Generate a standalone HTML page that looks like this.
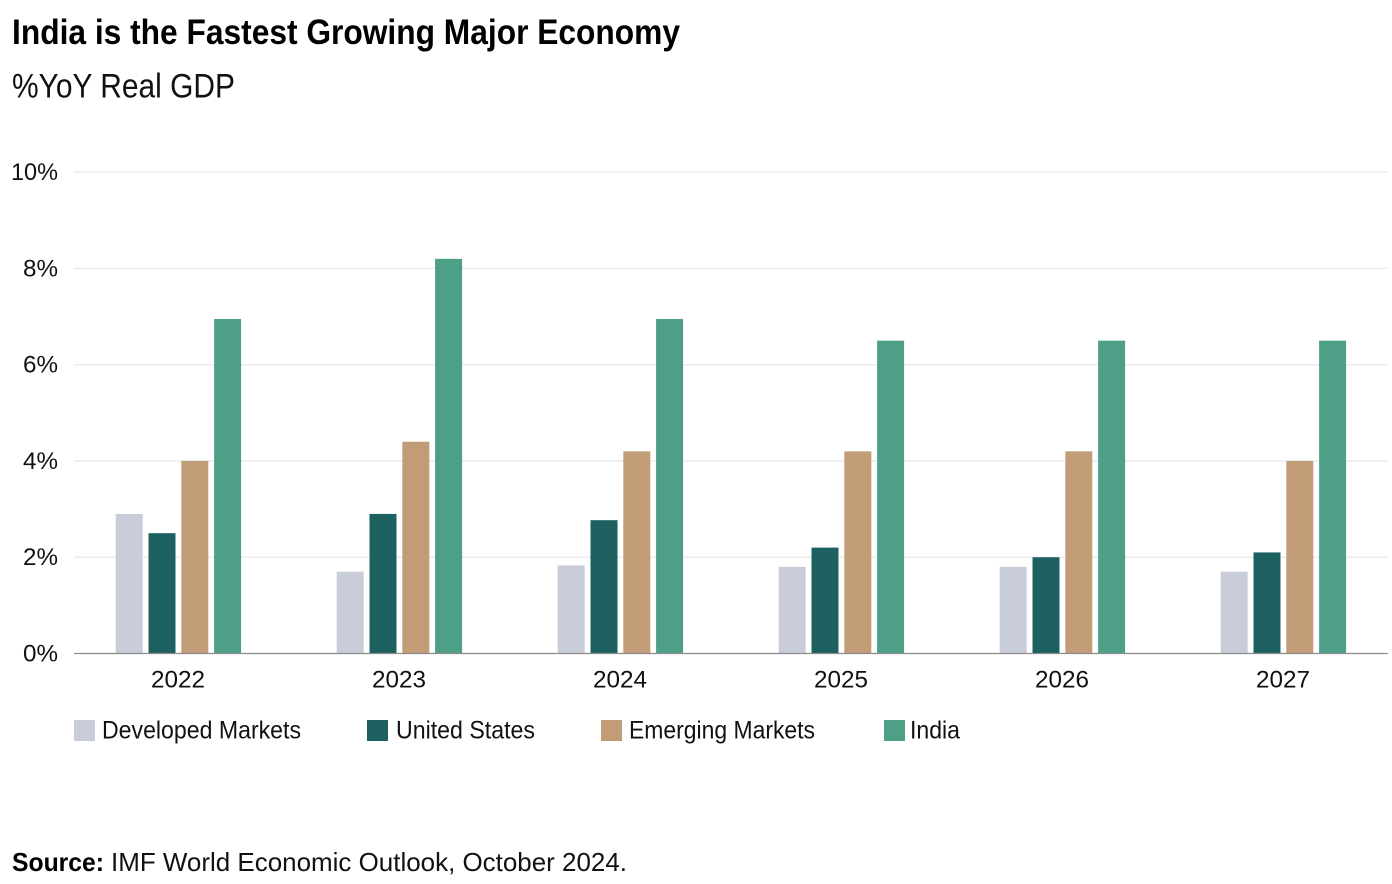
<!DOCTYPE html>
<html lang="en">
<head>
<meta charset="utf-8">
<title>India is the Fastest Growing Major Economy</title>
<style>
html,body{margin:0;padding:0;background:#fff;width:1392px;height:884px;overflow:hidden}
svg{display:block;font-family:"Liberation Sans",sans-serif;fill:#000}
</style>
</head>
<body>
<svg id="chart" width="1392" height="884" viewBox="0 0 1392 884" xmlns="http://www.w3.org/2000/svg">
  <rect width="1392" height="884" fill="#ffffff"/>
  <text x="12" y="44" font-size="35" font-weight="700" textLength="668" lengthAdjust="spacingAndGlyphs" fill="#000">India is the Fastest Growing Major Economy</text>
  <text x="12" y="97.5" font-size="34" textLength="223" lengthAdjust="spacingAndGlyphs" fill="#111">%YoY Real GDP</text>
  <g id="gridlines"></g>
  <g id="y-axis"></g>
  <g id="bars"></g>
  <line x1="74" x2="1388" y1="653.5" y2="653.5" stroke="#8c8c8c" stroke-width="1.2"/>
  <g id="x-axis"></g>
  <g id="legend">
    <g>
      <rect x="74" y="720" width="21" height="21" fill="#c9cdd9"/>
      <text x="102" y="738.5" font-size="25" textLength="199" lengthAdjust="spacingAndGlyphs" fill="#111">Developed Markets</text>
    </g>
    <g>
      <rect x="367" y="720" width="21" height="21" fill="#1c6160"/>
      <text x="396" y="738.5" font-size="25" textLength="139" lengthAdjust="spacingAndGlyphs" fill="#111">United States</text>
    </g>
    <g>
      <rect x="601" y="720" width="21" height="21" fill="#c19c76"/>
      <text x="629" y="738.5" font-size="25" textLength="186" lengthAdjust="spacingAndGlyphs" fill="#111">Emerging Markets</text>
    </g>
    <g>
      <rect x="884" y="720" width="21" height="21" fill="#4e9f87"/>
      <text x="910" y="738.5" font-size="25" textLength="50" lengthAdjust="spacingAndGlyphs" fill="#111">India</text>
    </g>
  </g>
  <text x="12" y="871" font-size="26" font-weight="700" textLength="92" lengthAdjust="spacingAndGlyphs" fill="#000">Source:</text>
  <text x="111" y="871" font-size="26" textLength="516" lengthAdjust="spacingAndGlyphs" fill="#111">IMF World Economic Outlook, October 2024.</text>
</svg>
<script>
const categories = ['2022', '2023', '2024', '2025', '2026', '2027'];
const developedMarkets = [2.9, 1.7, 1.83, 1.8, 1.8, 1.7];
const unitedStates = [2.5, 2.9, 2.77, 2.2, 2.0, 2.1];
const emergingMarkets = [4.0, 4.4, 4.2, 4.2, 4.2, 4.0];
const india = [6.95, 8.2, 6.95, 6.5, 6.5, 6.5];
const yTickValues = [0, 2, 4, 6, 8, 10];
const yTickLabels = ['0%', '2%', '4%', '6%', '8%', '10%'];

const SVG_NS = 'http://www.w3.org/2000/svg';
const seriesList = [
  { key: 'developed-markets', values: developedMarkets, color: '#c9cdd9' },
  { key: 'united-states', values: unitedStates, color: '#1c6160' },
  { key: 'emerging-markets', values: emergingMarkets, color: '#c19c76' },
  { key: 'india', values: india, color: '#4e9f87' }
];
const plot = { left: 74, right: 1388, zeroY: 653.5, topY: 172.2, yMax: 10, firstGroupX: 67.9, groupStep: 221 };
const barWidth = 27;
const barStep = 32.8;

function yScale(value) {
  return plot.zeroY - (value / plot.yMax) * (plot.zeroY - plot.topY);
}
function groupCenter(index) {
  return plot.firstGroupX + plot.groupStep * (index + 0.5);
}
function make(tag, attrs) {
  const el = document.createElementNS(SVG_NS, tag);
  Object.keys(attrs).forEach(function (k) { el.setAttribute(k, attrs[k]); });
  return el;
}

const gridGroup = document.getElementById('gridlines');
const yAxisGroup = document.getElementById('y-axis');
yTickValues.forEach(function (tick, i) {
  const y = yScale(tick);
  if (tick !== 0) {
    const line = make('line', { x1: plot.left, x2: plot.right, y1: y, y2: y, stroke: '#e6e8e9', 'stroke-width': 1.2 });
    
    
    gridGroup.appendChild(line);
  }
  const label = make('text', {
    x: 58, y: y + 8, 'font-size': 24, 'text-anchor': 'end', fill: '#111',
    textLength: yTickLabels[i].length === 3 ? 47 : 35, lengthAdjust: 'spacingAndGlyphs'
  });
  
  
  label.textContent = yTickLabels[i];
  yAxisGroup.appendChild(label);
});

const barsGroup = document.getElementById('bars');
const xAxisGroup = document.getElementById('x-axis');
categories.forEach(function (category, c) {
  const center = groupCenter(c);
  const groupLeft = center - (barStep * (seriesList.length - 1) + barWidth) / 2;
  seriesList.forEach(function (series, s) {
    const top = yScale(series.values[c]);
    const bar = make('rect', {
      x: groupLeft + s * barStep, y: top, width: barWidth, height: plot.zeroY - top, fill: series.color
    });
    
    
    barsGroup.appendChild(bar);
  });
  const label = make('text', {
    x: center - 0.4, y: 687.5, 'font-size': 24, 'text-anchor': 'middle', fill: '#111',
    textLength: 54, lengthAdjust: 'spacingAndGlyphs'
  });
  
  
  label.textContent = category;
  xAxisGroup.appendChild(label);
});
</script>
</body>
</html>
